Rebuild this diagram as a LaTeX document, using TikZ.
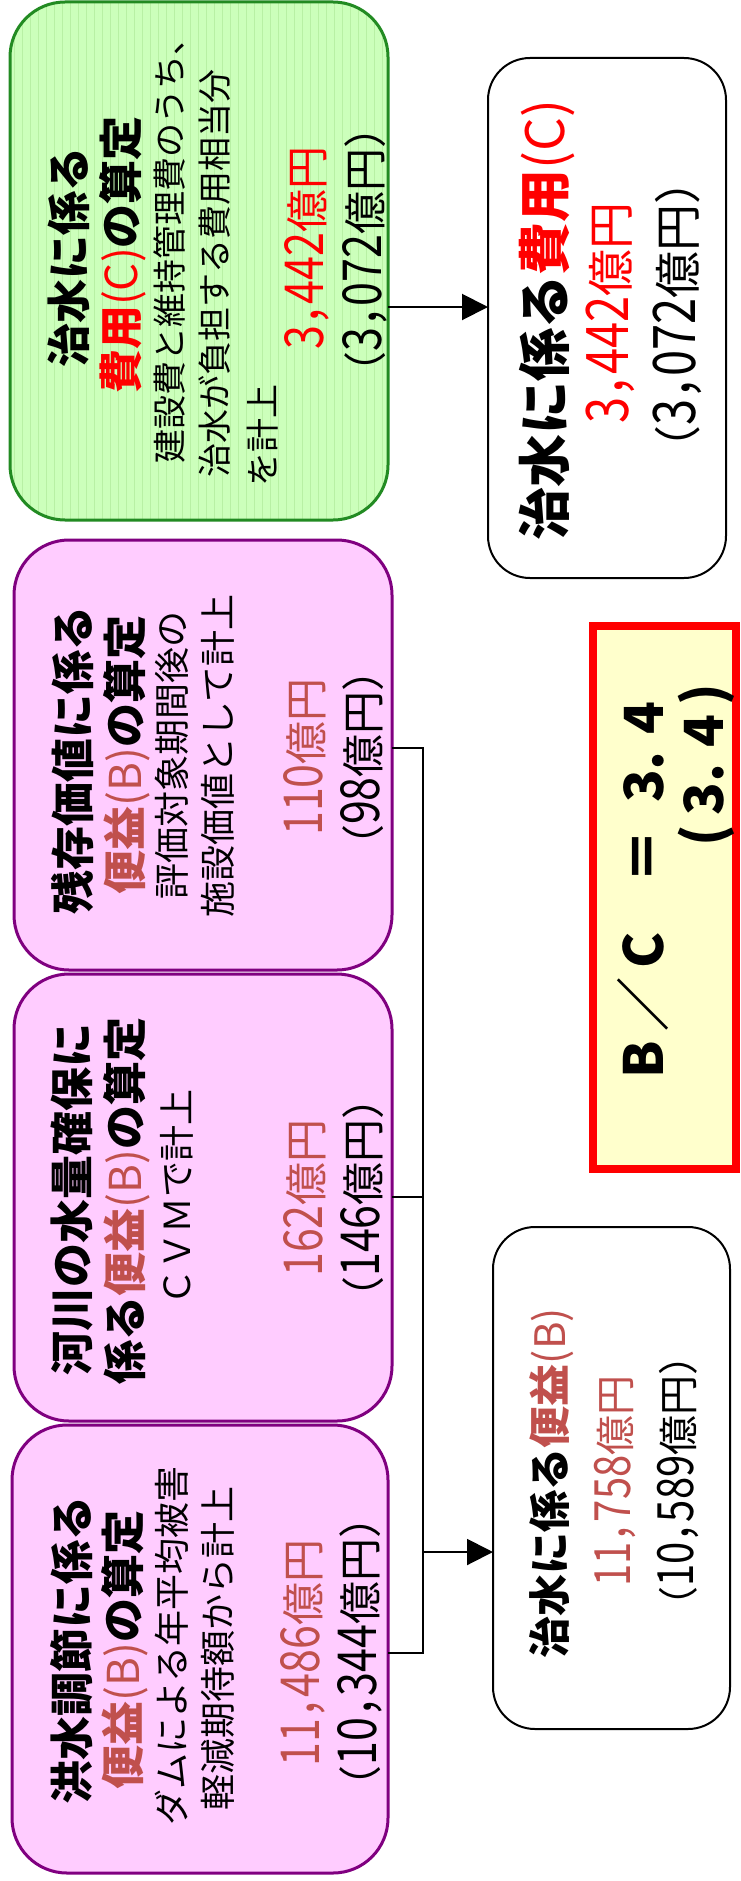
\documentclass[tikz,border=0pt]{standalone}
\usepackage{fontspec}
\usepackage{graphicx}
\setmainfont{Noto Sans CJK JP}
\newfontfamily\haltfont[RawFeature=+halt]{Noto Sans CJK JP}
\usetikzlibrary{arrows.meta}
\newcommand\tallnum[1]{\scalebox{1}[1.25]{#1}}
\definecolor{cben}{HTML}{C0504D}
\definecolor{cred}{HTML}{FF0000}
\definecolor{pinkfill}{HTML}{FFCCFF}
\definecolor{pinkline}{HTML}{800080}
\definecolor{greenfill}{HTML}{CCFFBB}
\definecolor{greenstripe}{HTML}{B8F0A4}
\definecolor{greenline}{HTML}{228B22}
\definecolor{bcfill}{HTML}{FFFFCC}
\begin{document}
\begin{tikzpicture}[x=1pt,y=1pt,
  box/.style={rectangle, inner sep=0pt, outer sep=0pt},
  pinkbox/.style={box, draw=pinkline, fill=pinkfill, line width=3pt, rounded corners=55pt},
  greenbox/.style={box, draw=greenline, fill=greenfill, line width=3pt, rounded corners=55pt,
    path picture={\foreach \k in {0,...,47}
      \draw[greenstripe, line width=1pt]
        ([xshift=\k*8pt+4pt]path picture bounding box.south west) --
        ([xshift=\k*8pt+4pt]path picture bounding box.north west);}},
  whitebox/.style={box, draw=black, fill=white, line width=2pt, rounded corners=42pt},
  bcbox/.style={box, draw=cred, fill=bcfill, line width=8pt},
  txt/.style={rotate=90, inner sep=0pt, anchor=center, text=black},
  ttl/.style={txt, font=\fontsize{44}{52}\selectfont\bfseries},
  bdy/.style={txt, font=\fontsize{36}{44}\selectfont},
  bdyg/.style={txt, font=\fontsize{34}{42}\selectfont},
  num/.style={txt, font=\haltfont\fontsize{43}{50}\selectfont},
  thinline/.style={line width=1.2pt, draw=black},
  thickline/.style={line width=2pt, draw=black},
  tip/.style={-{Triangle[length=26pt,width=26pt]}}
]
\useasboundingbox (0,0) rectangle (740,-1881);
\fill[white] (0,0) rectangle (740,-1881);

% boxes
\node[greenbox, minimum width=378pt, minimum height=518pt] (g) at (199,-261) {};
\node[pinkbox, minimum width=378pt, minimum height=430pt] (p1) at (203,-755) {};
\node[pinkbox, minimum width=378pt, minimum height=447pt] (p2) at (203,-1197.5) {};
\node[pinkbox, minimum width=376pt, minimum height=448pt] (p3) at (200,-1649) {};
\node[whitebox, minimum width=238pt, minimum height=520pt] (c) at (607,-318) {};
\node[whitebox, minimum width=237pt, minimum height=502pt] (bb) at (611.5,-1478) {};
\node[bcbox, minimum width=143pt, minimum height=543pt] (bc) at (664.5,-897.5) {};

% connectors
\coordinate (ya) at (0,-307);
\coordinate (j1) at (423,-748);
\coordinate (j2) at (423,-1197);
\coordinate (j3) at (423,-1552);
\coordinate (j4) at (423,-1653);
\draw[thinline] (p1.east |- j1) -- (j1) -- (j2);
\draw[thickline] (p2.east |- j2) -- (j2) -- (j3);
\draw[thinline] (p3.east |- j4) -- (j4) -- (j3);
\draw[thickline, tip] (j3) -- (bb.west |- j3);
\draw[thickline, tip] (g.east |- ya) -- (c.west |- ya);

% green box texts
\node[ttl] (g1) at (69,-257) {治水に係る};
\node[ttl] (g2) at (123,-255) {\textcolor{cred}{費用{\mdseries(C)}}の算定};
\node[bdyg] (g3) at (170,-242) {建設費と維持管理費のうち、};
\node[bdyg] (g4) at (215,-273) {治水が負担する費用相当分};
\node[bdyg, anchor=west] (g5) at (263,-487) {を計上};
\node[num, text=cred] (g6) at (307,-248) {\tallnum{3，442}億円};
\node[num] (g7) at (365,-250) {（\tallnum{3，072}億円）};

% pink box 1
\node[ttl] (a1) at (72,-760) {残存価値に係る};
\node[ttl] (a2) at (127,-755) {\textcolor{cben}{便益{\mdseries(B)}}の算定};
\node[bdy] (a3) at (172,-755) {評価対象期間後の};
\node[bdy] (a4) at (218,-756) {施設価値として計上};
\node[num, text=cben] (a5) at (305,-757) {\tallnum{110}億円};
\node[num] (a6) at (362,-758) {（\tallnum{98}億円）};

% pink box 2
\node[ttl] (b1) at (72,-1199) {河川の水量確保に};
\node[ttl] (b2) at (127,-1201) {係る\textcolor{cben}{便益{\mdseries(B)}}の算定};
\node[bdy] (b3) at (177,-1197) {ＣＶＭで計上};
\node[num, text=cben] (b4) at (305,-1198) {\tallnum{162}億円};
\node[num] (b5) at (362,-1198) {（\tallnum{146}億円）};

% pink box 3
\node[ttl] (c1) at (72,-1650) {洪水調節に係る};
\node[ttl] (c2) at (125,-1650) {\textcolor{cben}{便益{\mdseries(B)}}の算定};
\node[bdy] (c3) at (172,-1646) {ダムによる年平均被害};
\node[bdy] (c4) at (218,-1648) {軽減期待額から計上};
\node[num, text=cben] (c5) at (303,-1653) {\tallnum{11，486}億円};
\node[num] (c6) at (360,-1652) {（\tallnum{10，344}億円）};

% cost box
\node[ttl, font=\fontsize{53}{60}\selectfont\bfseries] (d1) at (547,-320) {治水に係る\textcolor{cred}{費用{\mdseries(C)}}};
\node[num, text=cred, font=\haltfont\fontsize{47}{54}\selectfont] (d2) at (610,-313) {\tallnum{3，442}億円};
\node[num, font=\haltfont\fontsize{47}{54}\selectfont] (d3) at (677,-315) {（\tallnum{3，072}億円）};

% benefit box
\node[ttl, font=\fontsize{42}{50}\selectfont\bfseries] (e1) at (552,-1483) {治水に係る\textcolor{cben}{便益{\mdseries(B)}}};
\node[num, text=cben, font=\haltfont\fontsize{40}{48}\selectfont] (e2) at (615,-1481) {\tallnum{11，758}億円};
\node[num, font=\haltfont\fontsize{40}{48}\selectfont] (e3) at (678,-1481) {（\tallnum{10，589}億円）};

% B/C box
\node[txt, font=\fontsize{54}{60}\selectfont\bfseries] (f1) at (643,-890) {B\,／\,C\hspace{0.9em}＝\hspace{0.5em}3.\hspace{0.3em}4};
\node[txt, font=\fontsize{54}{60}\selectfont\bfseries] (f2) at (706,-765) {(\,3.\hspace{0.3em}4\,)};
\end{tikzpicture}
\end{document}
